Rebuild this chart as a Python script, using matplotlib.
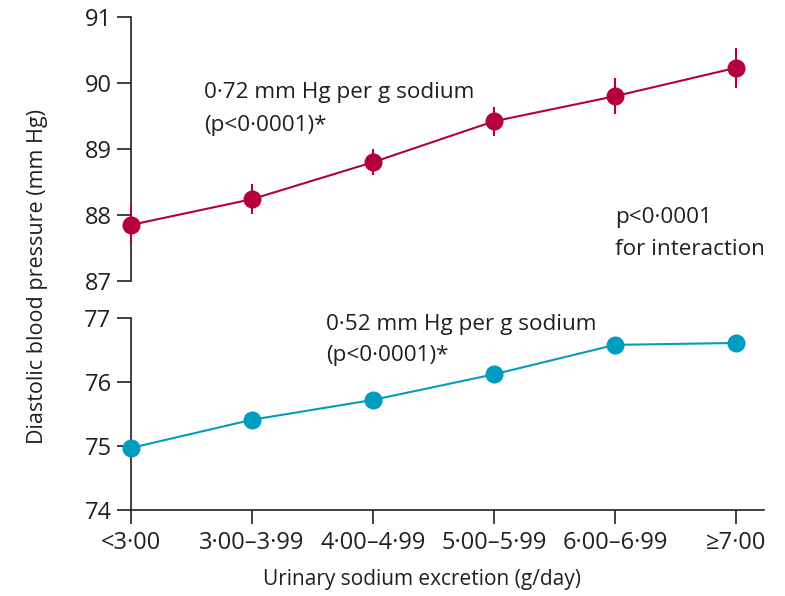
"""
Diastolic blood pressure by urinary sodium excretion, two groups on a broken axis.
"""

import matplotlib.pyplot as plt
from matplotlib.ticker import FixedLocator

# data
categories = ['<3·00', '3·00–3·99', '4·00–4·99', '5·00–5·99', '6·00–6·99', '≥7·00']
red_values = [87.85, 88.24, 88.80, 89.42, 89.80, 90.23]
red_errors = [0.29, 0.23, 0.20, 0.22, 0.27, 0.30]
blue_values = [74.97, 75.41, 75.72, 76.12, 76.58, 76.61]
blue_errors = [0.05, 0.05, 0.06, 0.07, 0.12, 0.12]

red = '#b5003b'
blue = '#009dbf'
ink = '#231f20'

plt.rcParams['font.family'] = ['Open Sans', 'DejaVu Sans']
plt.rcParams['text.color'] = ink
plt.rcParams['axes.edgecolor'] = ink
plt.rcParams['xtick.color'] = ink
plt.rcParams['ytick.color'] = ink

W, H = 785, 596
fig = plt.figure(figsize=(W/100, H/100), dpi=100)

left = 131/W
width = (764-131)/W
top_ax = fig.add_axes([left, 1-281/H, width, (281-17)/H])
bot_ax = fig.add_axes([left, 1-510/H, width, (510-318)/H])

xs = list(range(len(categories)))
xlim = (0, 5 + 28/121)

for ax, vals, errs, color, ylim in [(top_ax, red_values, red_errors, red, (87, 91)),
                                    (bot_ax, blue_values, blue_errors, blue, (74, 77))]:
    ax.errorbar(xs, vals, yerr=errs, color=color, marker='o', markersize=12,
                linewidth=1.5, elinewidth=1.5, capsize=0, clip_on=False, zorder=3)
    ax.set_xlim(*xlim)
    ax.set_ylim(*ylim)
    ax.set_yticks(range(ylim[0], ylim[1]+1))
    for side in ['top', 'right']:
        ax.spines[side].set_visible(False)
    ax.spines['left'].set_linewidth(1.2)
    ax.tick_params(axis='y', direction='out', length=10, width=1.2, pad=4,
                   labelsize=17)
    ax.patch.set_visible(False)

# top panel: no x axis, cap at the bottom of the y axis
top_ax.spines['bottom'].set_visible(False)
top_ax.set_xticks([])
top_ax.yaxis.set_minor_locator(FixedLocator([87]))
top_ax.tick_params(axis='y', which='minor', direction='in', length=10, width=1.2)

# bottom panel: cap at the top of the y axis, category ticks on x
bot_ax.yaxis.set_minor_locator(FixedLocator([77]))
bot_ax.tick_params(axis='y', which='minor', direction='in', length=10, width=1.2)
bot_ax.spines['bottom'].set_linewidth(1.2)
bot_ax.set_xticks(xs)
bot_ax.set_xticklabels(categories)
bot_ax.tick_params(axis='x', direction='out', length=10, width=1.2, pad=5,
                   labelsize=17)

# annotations
top_ax.text(0.603, 89.60, '0·72 mm Hg per g sodium\n(p<0·0001)*',
            ha='left', va='center', fontsize=16.2, linespacing=1.75)
top_ax.text(4.0, 87.72, 'p<0·0001\nfor interaction',
            ha='left', va='center', fontsize=16.2, linespacing=1.7)
bot_ax.text(1.61, 76.66, '0·52 mm Hg per g sodium\n(p<0·0001)*',
            ha='left', va='center', fontsize=16.2, linespacing=1.6)

fig.text(38/W, 1-277/H, 'Diastolic blood pressure (mm Hg)', rotation=90,
         ha='center', va='center', fontsize=15.5)
fig.text(422/W, 1-580/H, 'Urinary sodium excretion (g/day)',
         ha='center', va='center', fontsize=15)

fig.savefig('out.png', dpi=100)
